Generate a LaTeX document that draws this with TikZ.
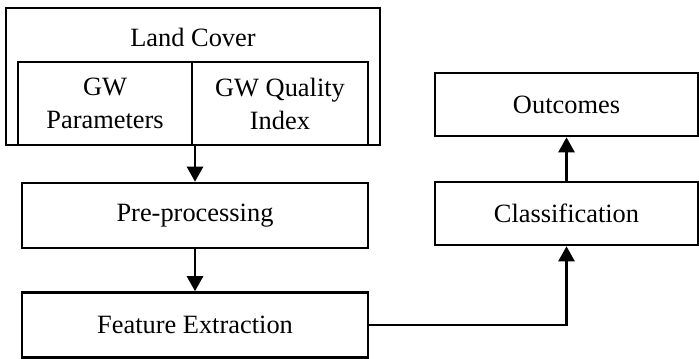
\documentclass[tikz,border=0pt]{standalone}
\usepackage{fontspec}
\setmainfont{Liberation Serif}
\usetikzlibrary{positioning, arrows.meta}

\begin{document}
\begin{tikzpicture}[
x=0.5pt, y=-0.5pt,
box/.style={rectangle, draw=black, line width=1.3pt, inner sep=0pt, align=center, font=\fontsize{13.2}{16.5}\selectfont},
wide/.style={box, minimum width=173pt, minimum height=32.5pt},
side/.style={box, minimum width=131.5pt, minimum height=31.5pt},
>={Triangle[width=8pt, length=7.5pt]}
]
\useasboundingbox (0,0) rectangle (699,358);
%Nodes
\node[box, minimum width=187pt, minimum height=68.5pt] (Cover) at (193,76.5) {};
\node[font=\fontsize{13.2}{16.5}\selectfont] (CoverTxt) at (193,37) {Land Cover};
\node[box, minimum width=87pt, minimum height=41.5pt]  (Param)   at (105,103.5) {GW\\Parameters};
\node[box, minimum width=88pt, minimum height=41.5pt]  (Quality) at (280,103.5) {GW Quality\\Index};

\node[wide]      (Pre)        at (195,215.5)      {Pre-processing};
\node[wide]      (Feat)       at (195,325)        {Feature Extraction};
\node[side]      (Class)      at (566.5,213.5)    {Classification};
\node[side]      (Out)        at (566.5,104.5)    {Outcomes};

%Lines
\draw[->, line width=1.3pt] (Pre.north |- Cover.south) to (Pre.north) ;
\draw[->, line width=1.3pt] (Pre.south) to (Feat.north) ;
\draw[->, line width=1.3pt] (Feat.east) -| (Class.south) ;
\draw[->, line width=1.3pt] (Class.north) to (Out.south) ;
\end{tikzpicture}
\end{document}
